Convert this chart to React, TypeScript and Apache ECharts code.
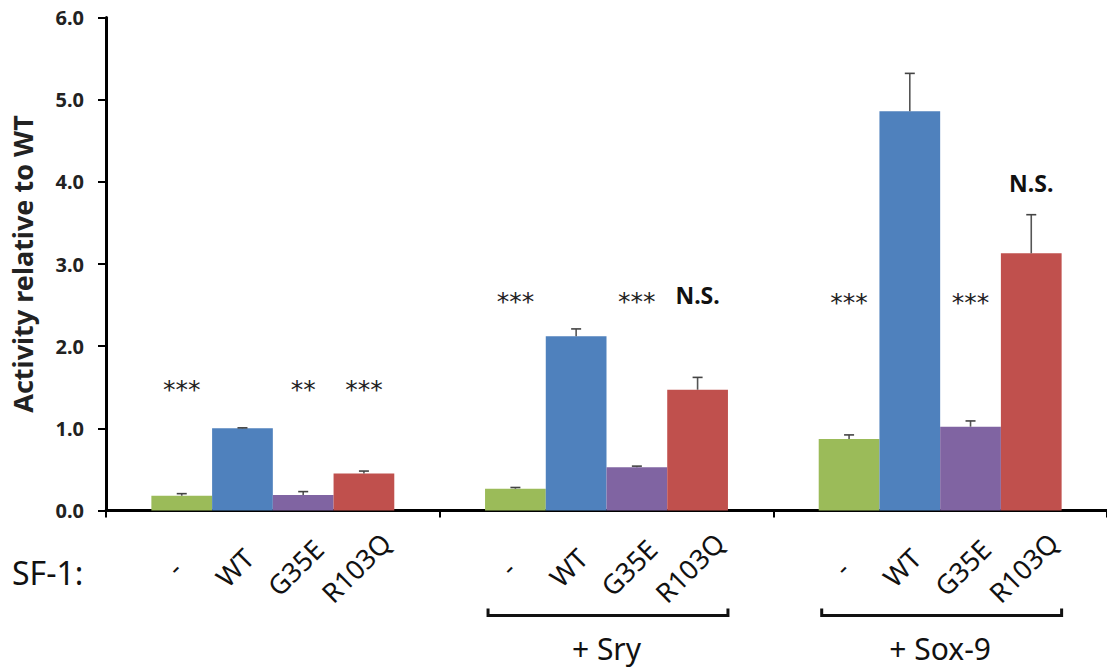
import React, { useEffect, useRef } from "react";
import * as echarts from "echarts";

// ---- data ----
const groups = ["SF-1", "+ Sry", "+ Sox-9"];
const groupLabels = ["", "+ Sry", "+ Sox-9"];
const variants = ["-", "WT", "G35E", "R103Q"];
const seriesColors = ["#9BBB59", "#4F81BD", "#8064A2", "#C0504D"];

const greenValues = [0.18, 0.265, 0.87];
const greenErrors = [0.025, 0.015, 0.05];
const blueValues = [1.0, 2.12, 4.86];
const blueErrors = [0.006, 0.09, 0.46];
const purpleValues = [0.19, 0.525, 1.02];
const purpleErrors = [0.04, 0.015, 0.07];
const redValues = [0.45, 1.47, 3.13];
const redErrors = [0.03, 0.15, 0.47];

const greenMarks = ["***", "***", "***"];
const greenMarkY = [1.55, 2.62, 2.6];
const blueMarks = ["", "", ""];
const blueMarkY = [0, 0, 0];
const purpleMarks = ["**", "***", "***"];
const purpleMarkY = [1.55, 2.62, 2.6];
const redMarks = ["***", "N.S.", "N.S."];
const redMarkY = [1.55, 2.62, 3.98];

const yTicks = [0, 1, 2, 3, 4, 5, 6];

const allValues = [greenValues, blueValues, purpleValues, redValues];
const allErrors = [greenErrors, blueErrors, purpleErrors, redErrors];
const allMarks = [greenMarks, blueMarks, purpleMarks, redMarks];
const allMarkY = [greenMarkY, blueMarkY, purpleMarkY, redMarkY];

const CAT_GAP = 0.272;
const FONT = "'Noto Sans', 'Open Sans', sans-serif";

export default function App() {
  const ref = useRef<HTMLDivElement>(null);

  useEffect(() => {
    if (!ref.current) return;
    const chart = echarts.init(ref.current, null, { renderer: "svg" });

    const barSeries = allValues.map((vals, s) => ({
      type: "bar",
      name: variants[s],
      data: vals,
      barGap: "0%",
      barCategoryGap: CAT_GAP * 100 + "%",
      itemStyle: { color: seriesColors[s] },
      z: 2,
    }));

    const detailData: number[][] = [];
    groups.forEach((_, g) => {
      allValues.forEach((vals, s) => {
        detailData.push([g, s, vals[g], allErrors[s][g]]);
      });
    });

    const detailSeries = {
      type: "custom",
      clip: false,
      z: 5,
      data: detailData,
      renderItem: (params: any, api: any) => {
        const g = api.value(0);
        const s = api.value(1);
        const v = api.value(2);
        const e = api.value(3);
        const catW = api.size([1, 0])[0];
        const bw = (catW * (1 - CAT_GAP)) / 4;
        const base = api.coord([g, 0]);
        const cx = base[0] + (s - 1.5) * bw;
        const top = api.coord([g, v])[1];
        const errTop = api.coord([g, v + e])[1];
        const children: any[] = [
          {
            type: "line",
            shape: { x1: cx, y1: top, x2: cx, y2: errTop },
            style: { stroke: "#555", lineWidth: 1.6 },
          },
          {
            type: "line",
            shape: { x1: cx - 5, y1: errTop, x2: cx + 5, y2: errTop },
            style: { stroke: "#444", lineWidth: 1.6 },
          },
          {
            type: "text",
            x: cx - 8,
            y: base[1] + 57,
            rotation: Math.PI / 4,
            style: {
              text: variants[s],
              fontSize: 27,
              fontFamily: FONT,
              fill: "#111",
              align: "center",
              verticalAlign: "middle",
            },
          },
        ];
        const mark = allMarks[s][g];
        if (mark) {
          const my = api.coord([g, allMarkY[s][g]])[1];
          const isNS = mark === "N.S.";
          children.push({
            type: "text",
            x: cx,
            y: isNS ? my : my + 6,
            style: {
              text: mark,
              fontSize: isNS ? 23 : 25,
              fontWeight: isNS ? "bold" : "normal",
              fontFamily: isNS ? FONT : "'DejaVu Sans', sans-serif",
              fill: isNS ? "#111" : "#222",
              align: "center",
              verticalAlign: "middle",
            },
          });
        }
        return { type: "group", children };
      },
    };

    const groupData = groupLabels
      .map((lab, g) => [g, lab ? 1 : 0])
      .filter((d) => d[1] === 1);

    const groupSeries = {
      type: "custom",
      clip: false,
      z: 5,
      data: groupData,
      renderItem: (params: any, api: any) => {
        const g = api.value(0);
        const catW = api.size([1, 0])[0];
        const bw = (catW * (1 - CAT_GAP)) / 4;
        const base = api.coord([g, 0]);
        const x1 = base[0] - 2 * bw + 3;
        const x2 = base[0] + 2 * bw;
        const y = base[1] + 105;
        return {
          type: "group",
          children: [
            {
              type: "polyline",
              shape: { points: [[x1, y - 7], [x1, y], [x2, y], [x2, y - 7]] },
              style: { stroke: "#111", lineWidth: 3, fill: "none" },
            },
            {
              type: "text",
              x: base[0],
              y: base[1] + 138,
              style: {
                text: groupLabels[g],
                fontSize: 30,
                fontFamily: FONT,
                fill: "#111",
                align: "center",
                verticalAlign: "middle",
              },
            },
          ],
        };
      },
    };

    chart.setOption({
      animation: false,
      grid: { left: 106, right: 0, top: 17.5, bottom: 157.5, containLabel: false },
      xAxis: {
        type: "category",
        data: groups,
        axisLine: { lineStyle: { color: "#000", width: 3 } },
        axisTick: { show: true, interval: 0, length: 7, lineStyle: { color: "#000", width: 2 } },
        axisLabel: { show: false },
      },
      yAxis: {
        type: "value",
        min: yTicks[0],
        max: yTicks[yTicks.length - 1],
        interval: 1,
        name: "Activity relative to WT",
        nameLocation: "middle",
        nameRotate: 90,
        nameGap: 70,
        nameTextStyle: { fontSize: 27, fontWeight: "bold", fontFamily: FONT, color: "#222" },
        axisLine: { show: true, lineStyle: { color: "#000", width: 3 } },
        axisTick: { show: true, length: 8, lineStyle: { color: "#000", width: 2 } },
        splitLine: { show: false },
        axisLabel: {
          margin: 22,
          fontSize: 20,
          fontWeight: "bold",
          fontFamily: FONT,
          color: "#222",
          formatter: (v: number) => v.toFixed(1),
        },
      },
      graphic: [
        {
          type: "text",
          left: 12,
          top: 556,
          style: { text: "SF-1:", fontSize: 32, fontFamily: FONT, fill: "#111" },
        },
      ],
      series: [...barSeries, detailSeries, groupSeries],
    });

    return () => chart.dispose();
  }, []);

  return (
    <div
      ref={ref}
      style={{ position: "fixed", left: 0, top: 0, width: 1107, height: 668, background: "#fff" }}
    />
  );
}
